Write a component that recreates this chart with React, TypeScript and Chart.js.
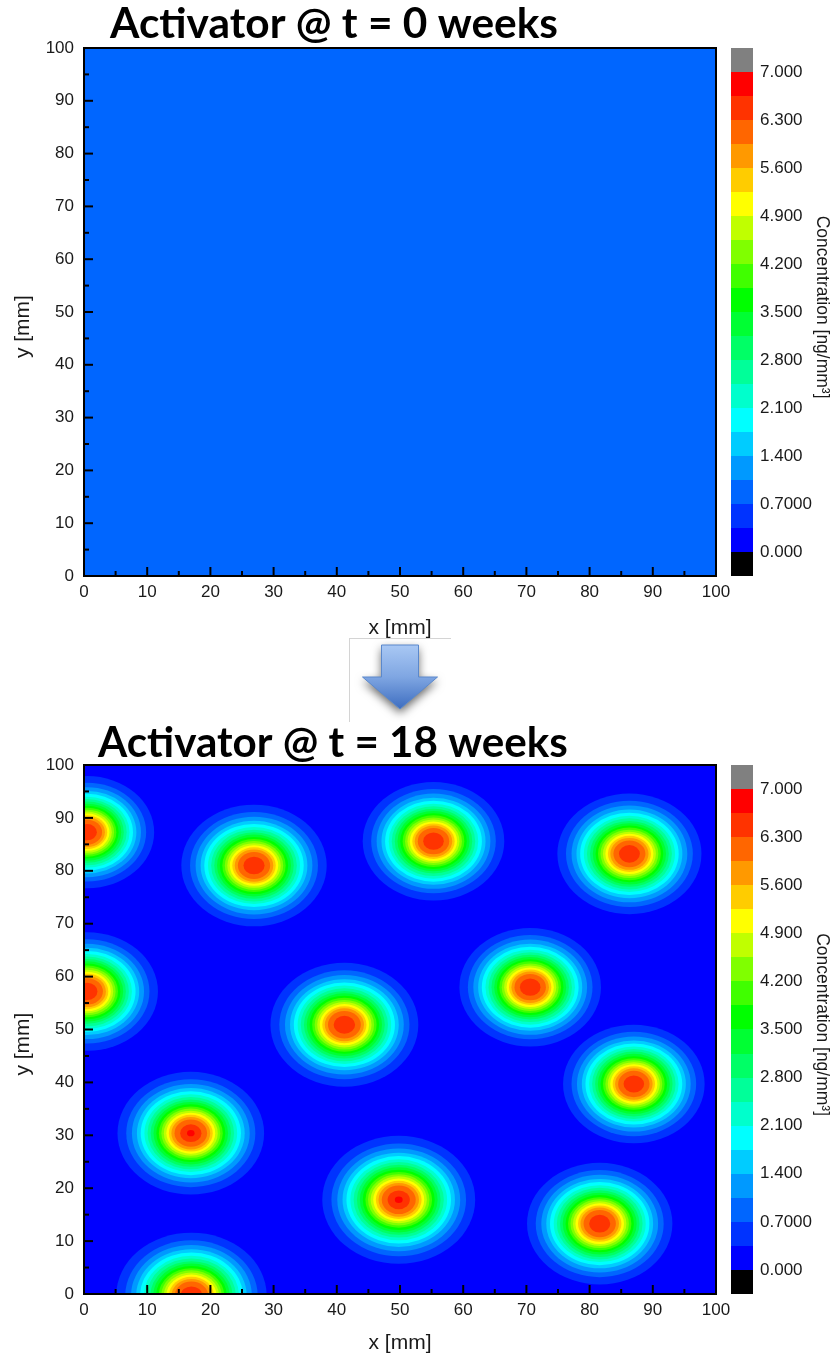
import React, { useEffect, useRef } from 'react';
import { Chart, registerables } from 'chart.js';

Chart.register(...registerables);

// ---------------- data ----------------
const axisMin = 0;
const axisMax = 100;
const axisStep = 10;

// contour level boundaries (ng/mm^3) and their fill colours
const levelBounds = [0, 0.35, 0.7, 1.05, 1.4, 1.75, 2.1, 2.45, 2.8, 3.15, 3.5, 3.85, 4.2, 4.55, 4.9, 5.25, 5.6, 5.95, 6.3, 6.65, 7.0];
const levelColors = [
  '#0000FF', '#0033FF', '#0066FF', '#0099FF', '#00CCFF',
  '#00FFFF', '#00FFCC', '#00FF99', '#00FF66', '#00FF33',
  '#00FF00', '#40FF00', '#80FF00', '#C0FF00', '#FFFF00',
  '#FFCC00', '#FF9900', '#FF6600', '#FF3300', '#FF0000',
];
const underColor = '#000000';
const overColor = '#808080';
const colorbarMin = -0.35;
const colorbarMax = 7.35;
const colorbarTicks = [0, 0.7, 1.4, 2.1, 2.8, 3.5, 4.2, 4.9, 5.6, 6.3, 7.0];
const colorbarLabels = ['0.000', '0.7000', '1.400', '2.100', '2.800', '3.500', '4.200', '4.900', '5.600', '6.300', '7.000'];

// radial profile of one activator spot: radius (mm) at which each level is reached
const ringLevels = [0.35, 0.7, 1.05, 1.4, 1.75, 2.1, 2.45, 2.8, 3.15, 3.5, 3.85, 4.2, 4.55, 4.9, 5.25, 5.6, 5.95, 6.3, 6.65];
const ringRadii = [11.7, 10.3, 9.4, 8.6, 8.0, 7.4, 6.9, 6.4, 5.95, 5.5, 5.1, 4.7, 4.3, 3.9, 3.5, 3.1, 2.6, 1.7, 0.6];

// t = 0 weeks: uniform field
const t0Level = 0.9;

// t = 18 weeks: background + spots
const t18Level = 0.2;
const spotX = [0.5, 26.9, 55.3, 86.3, 0.5, 41.2, 70.6, 87.0, 16.9, 49.8, 81.6, 17.0];
const spotY = [87.3, 81.0, 85.6, 83.2, 57.2, 50.9, 58.0, 39.7, 30.4, 17.8, 13.3, -0.3];
const spotR = [10.6, 11.5, 11.2, 11.4, 11.2, 11.7, 11.2, 11.2, 11.6, 12.1, 11.5, 11.9];
const spotPeak = [6.6, 6.6, 6.6, 6.6, 6.6, 6.6, 6.6, 6.6, 6.7, 6.7, 6.6, 6.6];

const titles = ['Activator @ t = 0 weeks', 'Activator @ t = 18 weeks'];
const xTitle = 'x [mm]';
const yTitle = 'y [mm]';
const cTitle = 'Concentration [ng/mm\u00B3]';

// ---------------- helpers ----------------
const LABEL_FONT = "'Liberation Sans', Arial, sans-serif";
const TITLE_FONT = "Lato, 'Open Sans', sans-serif";

function colorFor(v: number): string {
  if (v < levelBounds[0]) return underColor;
  if (v >= levelBounds[levelBounds.length - 1]) return overColor;
  let idx = 0;
  for (let i = 0; i < levelColors.length; i++) {
    if (v >= levelBounds[i] - 1e-9) idx = i;
  }
  return levelColors[idx];
}

type PanelCfg = {
  top: number;
  height: number;
  padTop: number;
  padBottom: number;
  xTitlePad: number;
  titleIndex: number;
  titleDx: number;
  titleWidth: number;
  titleBaseline: number;
  background: number;
  withSpots: boolean;
  withArrow: boolean;
};

function zeroPad(s: any) {
  s.paddingTop = 0;
  s.paddingBottom = 0;
}

function Panel({ cfg }: { cfg: PanelCfg }) {
  const ref = useRef<HTMLCanvasElement | null>(null);

  useEffect(() => {
    const canvas = ref.current;
    if (!canvas) return;

    const plugin = {
      id: 'contourPanel',
      beforeDatasetsDraw(chart: any) {
        const { ctx, chartArea: a, scales } = chart;
        const xs = scales.x;
        const ys = scales.y;
        ctx.save();
        ctx.beginPath();
        ctx.rect(a.left, a.top, a.right - a.left, a.bottom - a.top);
        ctx.clip();
        ctx.fillStyle = colorFor(cfg.background);
        ctx.fillRect(a.left, a.top, a.right - a.left, a.bottom - a.top);
        if (cfg.withSpots) {
          for (let k = 0; k < ringLevels.length; k++) {
            ctx.fillStyle = colorFor(ringLevels[k]);
            for (let s = 0; s < spotX.length; s++) {
              if (spotPeak[s] < ringLevels[k]) continue;
              const r = (ringRadii[k] * spotR[s]) / ringRadii[0];
              const cx = xs.getPixelForValue(spotX[s]);
              const cy = ys.getPixelForValue(spotY[s]);
              const rx = Math.abs(xs.getPixelForValue(spotX[s] + r) - cx);
              const ry = Math.abs(ys.getPixelForValue(spotY[s] + r) - cy);
              ctx.beginPath();
              ctx.ellipse(cx, cy, rx, ry, 0, 0, Math.PI * 2);
              ctx.fill();
            }
          }
        }
        ctx.restore();
      },
      afterDatasetsDraw(chart: any) {
        const { ctx, chartArea: a, scales } = chart;
        const xs = scales.x;
        const ys = scales.y;
        const cs = scales.c;
        ctx.save();
        // colour bar
        const bx = a.right + 15;
        const bw = 22;
        const box = (v0: number, v1: number, col: string) => {
          const y0 = Math.round(cs.getPixelForValue(v0));
          const y1 = Math.round(cs.getPixelForValue(v1));
          ctx.fillStyle = col;
          ctx.fillRect(bx, Math.min(y0, y1), bw, Math.abs(y0 - y1));
        };
        box(colorbarMin, levelBounds[0], underColor);
        for (let i = 0; i < levelColors.length; i++) box(levelBounds[i], levelBounds[i + 1], levelColors[i]);
        box(levelBounds[levelBounds.length - 1], colorbarMax, overColor);

        // inward ticks
        ctx.strokeStyle = '#000';
        ctx.lineWidth = 2;
        const line = (x0: number, y0: number, x1: number, y1: number) => {
          ctx.beginPath();
          ctx.moveTo(x0, y0);
          ctx.lineTo(x1, y1);
          ctx.stroke();
        };
        const xt = xs.ticks;
        for (let i = 0; i < xt.length; i++) {
          const px = xs.getPixelForValue(xt[i].value);
          line(px, a.bottom, px, a.bottom - 9);
          if (i < xt.length - 1) {
            const mp = xs.getPixelForValue((xt[i].value + xt[i + 1].value) / 2);
            line(mp, a.bottom, mp, a.bottom - 5);
          }
        }
        const yt = ys.ticks;
        for (let i = 0; i < yt.length; i++) {
          const py = ys.getPixelForValue(yt[i].value);
          line(a.left, py, a.left + 9, py);
          if (i < yt.length - 1) {
            const mp = ys.getPixelForValue((yt[i].value + yt[i + 1].value) / 2);
            line(a.left, mp, a.left + 5, mp);
          }
        }
        // frame
        ctx.strokeRect(a.left, a.top, a.right - a.left, a.bottom - a.top);
        ctx.restore();
      },
      afterDraw(chart: any) {
        const { ctx, chartArea: a } = chart;
        ctx.save();
        // title
        const text = titles[cfg.titleIndex];
        ctx.font = `bold 40px ${TITLE_FONT}`;
        const w = ctx.measureText(text).width;
        const size = (40 * cfg.titleWidth) / w;
        ctx.font = `bold ${size.toFixed(2)}px ${TITLE_FONT}`;
        ctx.fillStyle = '#000';
        ctx.textAlign = 'left';
        ctx.textBaseline = 'alphabetic';
        ctx.fillText(text, a.left + cfg.titleDx, cfg.titleBaseline);

        if (cfg.withArrow) {
          const cx = (a.left + a.right) / 2;
          // light frame lines
          ctx.strokeStyle = '#D4D4D4';
          ctx.lineWidth = 1;
          ctx.beginPath();
          ctx.moveTo(cx - 51, a.bottom + 62.5);
          ctx.lineTo(cx + 51, a.bottom + 62.5);
          ctx.moveTo(cx - 50.5, a.bottom + 62.5);
          ctx.lineTo(cx - 50.5, chart.height);
          ctx.stroke();

          const y0 = a.bottom + 69;
          const yN = a.bottom + 101;
          const yT = a.bottom + 133;
          const sw = 18.5;
          const hw = 37.5;
          const path = () => {
            ctx.beginPath();
            ctx.moveTo(cx - sw, y0);
            ctx.lineTo(cx + sw, y0);
            ctx.lineTo(cx + sw, yN);
            ctx.lineTo(cx + hw, yN);
            ctx.lineTo(cx, yT);
            ctx.lineTo(cx - hw, yN);
            ctx.lineTo(cx - sw, yN);
            ctx.closePath();
          };
          const g = ctx.createLinearGradient(0, y0, 0, yT);
          g.addColorStop(0, '#A9C8F4');
          g.addColorStop(0.5, '#7FA6E2');
          g.addColorStop(1, '#3D6DC0');
          ctx.save();
          ctx.shadowColor = 'rgba(0,0,0,0.6)';
          ctx.shadowBlur = 10;
          ctx.shadowOffsetX = 0;
          ctx.shadowOffsetY = 4;
          path();
          ctx.fillStyle = g;
          ctx.fill();
          ctx.restore();
          path();
          ctx.strokeStyle = '#5A88CC';
          ctx.lineWidth = 1;
          ctx.stroke();
        }
        ctx.restore();
      },
    };

    const tickFont = { family: LABEL_FONT, size: 17 };
    const titleFont = { family: LABEL_FONT, size: 21 };

    const chart = new Chart(canvas, {
      type: 'scatter',
      data: { datasets: [] },
      options: {
        animation: false,
        responsive: false,
        devicePixelRatio: 1,
        layout: { padding: { top: cfg.padTop, bottom: cfg.padBottom, left: 0, right: 0 } },
        plugins: {
          legend: { display: false },
          tooltip: { enabled: false },
          title: { display: false },
        },
        scales: {
          x: {
            type: 'linear',
            position: 'bottom',
            min: axisMin,
            max: axisMax,
            ticks: { stepSize: axisStep, padding: 6, font: tickFont, color: '#1a1a1a', maxRotation: 0 },
            grid: { display: false, drawTicks: false },
            border: { display: false },
            title: { display: true, text: xTitle, font: titleFont, color: '#1a1a1a', padding: { top: 0, bottom: cfg.xTitlePad } },
            afterFit: (s: any) => {
              s.height = 65;
            },
          },
          y: {
            type: 'linear',
            position: 'left',
            min: axisMin,
            max: axisMax,
            ticks: { stepSize: axisStep, padding: 10, font: tickFont, color: '#1a1a1a' },
            grid: { display: false, drawTicks: false },
            border: { display: false },
            title: { display: true, text: yTitle + '     ', font: titleFont, color: '#1a1a1a', padding: { top: 10.4, bottom: 0 } },
            afterFit: (s: any) => {
              s.width = 84;
              zeroPad(s);
            },
          },
          c: {
            type: 'linear',
            axis: 'y',
            position: 'right',
            min: colorbarMin,
            max: colorbarMax,
            afterBuildTicks: (s: any) => {
              s.ticks = colorbarTicks.map((v) => ({ value: v }));
            },
            ticks: {
              autoSkip: false,
              padding: 44,
              font: { family: LABEL_FONT, size: 17 },
              color: '#1a1a1a',
              callback: (_v: any, i: number) => colorbarLabels[i],
            },
            grid: { display: false, drawTicks: false },
            border: { display: false },
            title: { display: true, text: cTitle + '  ', font: { family: LABEL_FONT, size: 17.5 }, color: '#1a1a1a', padding: { top: 7.5, bottom: 0 } },
            afterFit: (s: any) => {
              s.width = 124;
              zeroPad(s);
            },
          },
        },
      } as any,
      plugins: [plugin],
    });

    return () => {
      chart.destroy();
    };
  }, [cfg]);

  return (
    <canvas
      ref={ref}
      width={840}
      height={cfg.height}
      style={{ position: 'absolute', left: 0, top: cfg.top, width: 840, height: cfg.height, display: 'block' }}
    />
  );
}

const panelTop: PanelCfg = {
  top: 0,
  height: 722,
  padTop: 48,
  padBottom: 81,
  xTitlePad: 0,
  titleIndex: 0,
  titleDx: 26,
  titleWidth: 448,
  titleBaseline: 37.5,
  background: t0Level,
  withSpots: false,
  withArrow: true,
};

const panelBottom: PanelCfg = {
  top: 722,
  height: 637,
  padTop: 43,
  padBottom: 0,
  xTitlePad: 3.4,
  titleIndex: 1,
  titleDx: 14,
  titleWidth: 470,
  titleBaseline: 34.7,
  background: t18Level,
  withSpots: true,
  withArrow: false,
};

export default function App() {
  return (
    <div style={{ position: 'absolute', left: 0, top: 0, width: 840, height: 1359, background: '#fff', overflow: 'hidden' }}>
      <Panel cfg={panelTop} />
      <Panel cfg={panelBottom} />
    </div>
  );
}
